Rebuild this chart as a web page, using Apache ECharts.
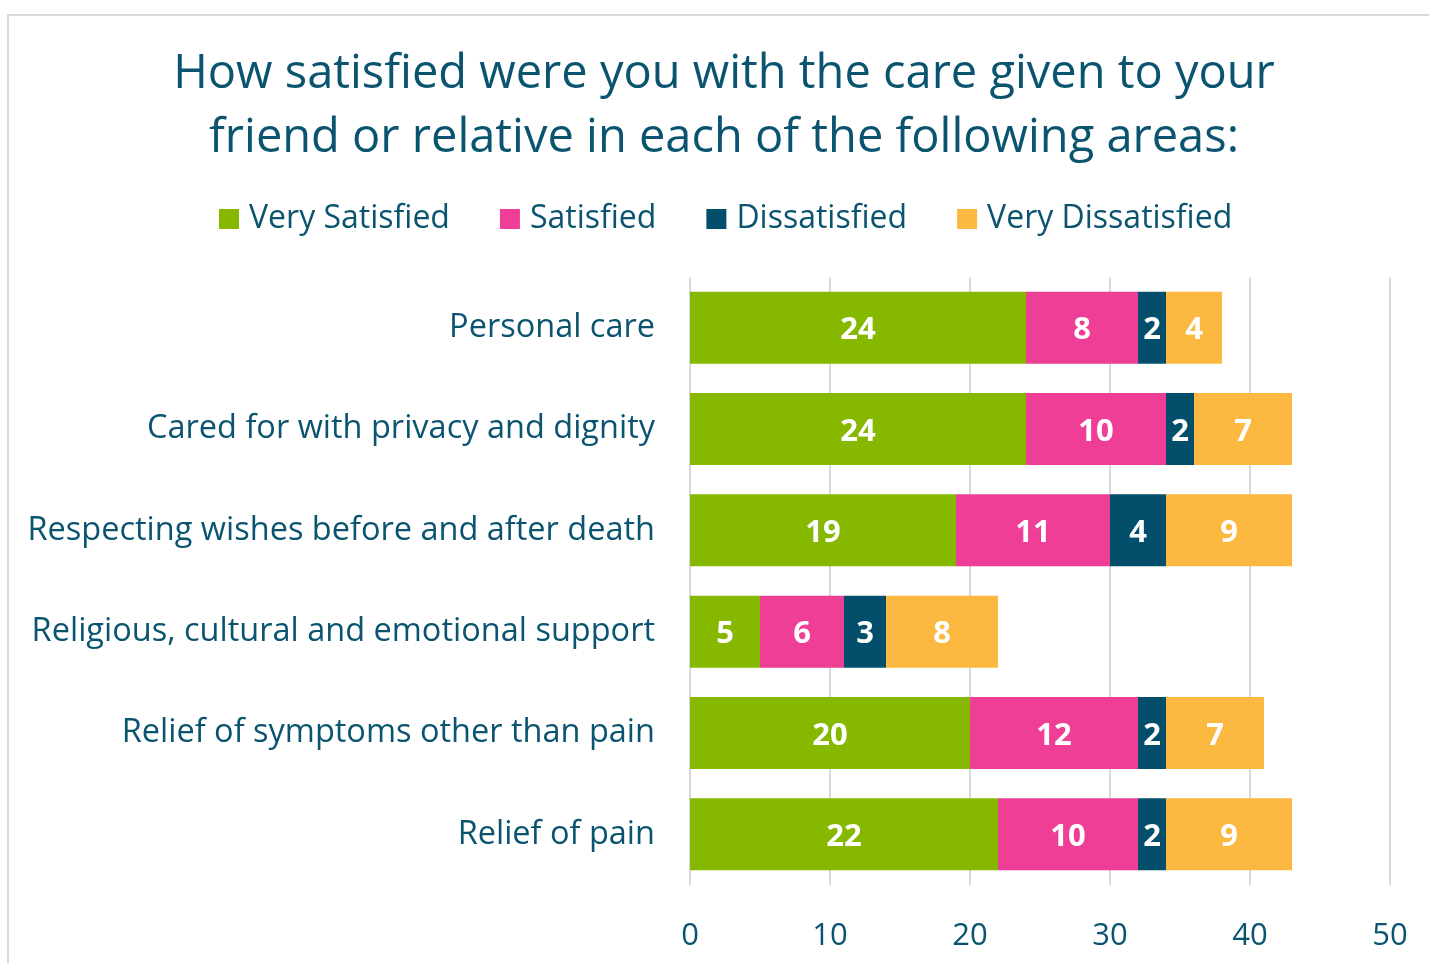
<!DOCTYPE html>
<html>
<head>
<meta charset="utf-8">
<script src="https://cdn.jsdelivr.net/npm/echarts@6/dist/echarts.min.js"></script>
<style>
html,body{margin:0;padding:0;background:#fff;}
#chart{width:1429px;height:963px;}
</style>
</head>
<body>
<div id="chart"></div>
<script>
// 分类
var categories = [
    'Personal care',
    'Cared for with privacy and dignity',
    'Respecting wishes before and after death',
    'Religious, cultural and emotional support',
    'Relief of symptoms other than pain',
    'Relief of pain'
];
// 各系列数值
var verySatisfied = [24, 24, 19, 5, 20, 22];
var satisfied = [8, 10, 11, 6, 12, 10];
var dissatisfied = [2, 2, 4, 3, 2, 2];
var veryDissatisfied = [4, 7, 9, 8, 7, 9];
var xTicks = [0, 10, 20, 30, 40, 50];

var FONT = 'Open Sans';
var TXT = '#0b5470';

function makeSeries(name, data, color){
    return {
        name : name,
        type : 'bar',
        stack : 'total',
        barCategoryGap : '29%',
        data : data,
        itemStyle : { color : color },
        label : {
            show : true,
            position : 'inside',
            color : '#fff',
            fontWeight : 'bold',
            fontSize : 31,
            fontFamily : FONT,
            offset : [0, 3]
        }
    };
}

var myChart = echarts.init(document.getElementById('chart'));
var option = {
    backgroundColor : '#fff',
    animation : false,
    graphic : [{
        type : 'rect',
        shape : { x : 8, y : 15, width : 1600, height : 1200 },
        style : { fill : 'none', stroke : '#d9d9d9', lineWidth : 2 },
        silent : true
    }],
    title : {
        text : 'How satisfied were you with the care given to your\nfriend or relative in each of the following areas:',
        left : 719,
        textAlign : 'center',
        top : 38,
        textStyle : {
            color : TXT,
            fontFamily : FONT,
            fontWeight : 'normal',
            fontSize : 47,
            lineHeight : 64
        }
    },
    legend : {
        top : 198,
        left : 214,
        itemWidth : 20,
        itemHeight : 20,
        itemGap : 50,
        icon : 'rect',
        textStyle : { color : TXT, fontFamily : FONT, fontSize : 32, padding : [0, 0, 0, 5] },
        data : ['Very Satisfied', 'Satisfied', 'Dissatisfied', 'Very Dissatisfied']
    },
    grid : {
        left : 690,
        right : 39,
        top : 277,
        bottom : 78
    },
    xAxis : {
        type : 'value',
        min : xTicks[0],
        max : xTicks[xTicks.length - 1],
        interval : 10,
        axisLine : { show : false },
        axisTick : { show : false },
        axisLabel : {
            color : TXT,
            fontFamily : FONT,
            fontSize : 31,
            margin : 36
        },
        splitLine : { lineStyle : { color : '#d9d9d9', width : 2 } }
    },
    yAxis : {
        type : 'category',
        inverse : true,
        data : categories,
        axisLine : { show : false },
        axisTick : { show : false },
        axisLabel : {
            color : TXT,
            fontFamily : FONT,
            fontSize : 32.5,
            margin : 35
        }
    },
    series : [
        makeSeries('Very Satisfied', verySatisfied, '#86b800'),
        makeSeries('Satisfied', satisfied, '#ef3e96'),
        makeSeries('Dissatisfied', dissatisfied, '#034f6b'),
        makeSeries('Very Dissatisfied', veryDissatisfied, '#fbb942')
    ]
};
myChart.setOption(option);
</script>
</body>
</html>
